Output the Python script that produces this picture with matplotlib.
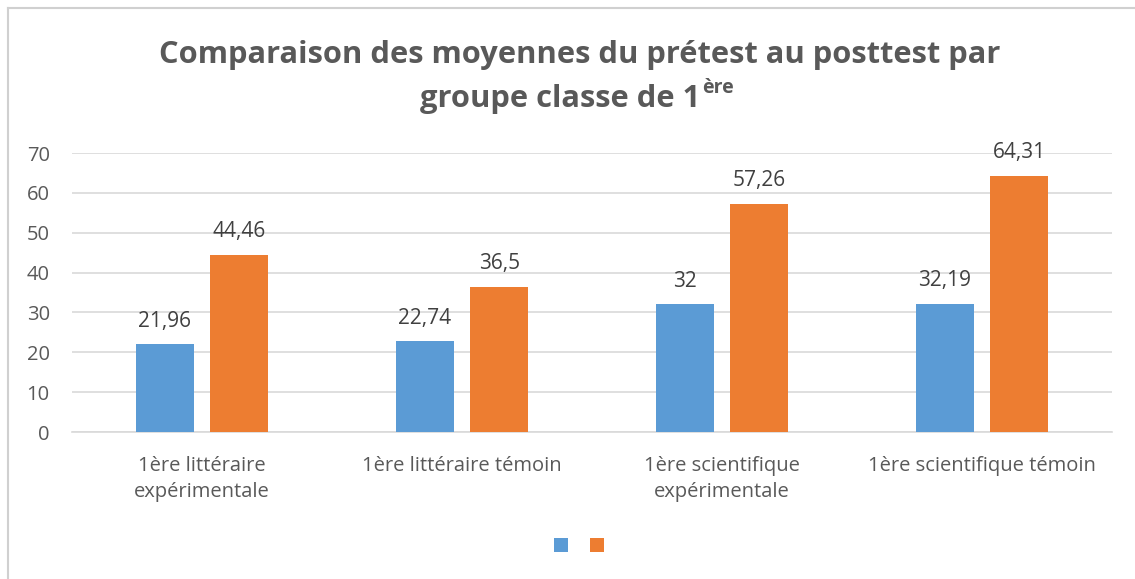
import matplotlib
matplotlib.use("Agg")
import matplotlib.pyplot as plt
from matplotlib.patches import Patch
from matplotlib.lines import Line2D
import numpy as np

categories = ["1ère littéraire\nexpérimentale", "1ère littéraire témoin",
              "1ère scientifique\nexpérimentale", "1ère scientifique témoin"]
pretest = [21.96, 22.74, 32.0, 32.19]
posttest = [44.46, 36.5, 57.26, 64.31]
pretest_labels = ["21,96", "22,74", "32", "32,19"]
posttest_labels = ["44,46", "36,5", "57,26", "64,31"]
y_ticks = [0, 10, 20, 30, 40, 50, 60, 70]

BLUE = "#5B9BD5"
ORANGE = "#ED7D31"
TEXT = "#595959"
GRID = "#D9D9D9"
FONT = "Open Sans"

W, H = 1135, 579
fig = plt.figure(figsize=(W / 100, H / 100), dpi=100)
fig.patch.set_facecolor("white")

# outer frame (left and top edges only are visible)
fig.add_artist(Line2D([7.5 / W, 7.5 / W], [0, 1 - 7.5 / H], transform=fig.transFigure,
                      color="#D0D0D0", lw=1.5))
fig.add_artist(Line2D([7.5 / W, 1], [1 - 7.5 / H, 1 - 7.5 / H], transform=fig.transFigure,
                      color="#D0D0D0", lw=1.5))

ax = fig.add_axes([72 / W, 1 - 432 / H, (1112 - 72) / W, (432 - 153) / H])
x = np.arange(len(categories))
bw = 0.223
off = 0.144
b1 = ax.bar(x - off, pretest, bw, color=BLUE, zorder=3)
b2 = ax.bar(x + off, posttest, bw, color=ORANGE, zorder=3)

for bars, labs in ((b1, pretest_labels), (b2, posttest_labels)):
    for r, lab in zip(bars, labs):
        ax.annotate(lab, (r.get_x() + r.get_width() / 2, r.get_height()),
                    xytext=(0, 9), textcoords="offset points", ha="center", va="bottom",
                    fontsize=15, color="#404040", family=FONT)

ax.set_xlim(-0.5, 3.5)
ax.set_ylim(0, 70)
ax.set_yticks(y_ticks)
ax.yaxis.grid(True, color=GRID, lw=1.2, zorder=0)
ax.set_axisbelow(True)
for s in ("left", "right", "top"):
    ax.spines[s].set_visible(False)
ax.spines["bottom"].set_color(GRID)
ax.spines["bottom"].set_linewidth(1.2)
ax.tick_params(axis="both", length=0, colors=TEXT, labelsize=14.5)
ax.tick_params(axis="y", pad=16)
ax.tick_params(axis="x", pad=17.5)
ax.set_xticks(x)
ax.set_xticklabels(categories, va="top", linespacing=1.35)
for t in ax.get_xticklabels() + ax.get_yticklabels():
    t.set_family(FONT)

# title: two lines, the second with a superscript
fig.text(580 / W, 1 - 55 / H, "Comparaison des moyennes du prétest au posttest par",
         ha="center", va="center", fontsize=22.2, fontweight="bold", color=TEXT, family=FONT)
fig.canvas.draw()
r = fig.canvas.get_renderer()
main = fig.text(0, 1 - 99 / H, "groupe classe de 1", ha="left", va="center",
                fontsize=22.2, fontweight="bold", color=TEXT, family=FONT)
sup = fig.text(0, 0, "ère", ha="left", va="center", fontsize=14, fontweight="bold",
               color=TEXT, family=FONT)
wm = main.get_window_extent(r).width
ws = sup.get_window_extent(r).width
total = wm + 2 + ws
x0 = 577 - total / 2
main.set_x(x0 / W)
sup.set_position(((x0 + wm + 2) / W, 1 - 88 / H))

handles = [Patch(facecolor=BLUE), Patch(facecolor=ORANGE)]
fig.legend(handles, ["", ""], loc="center", bbox_to_anchor=(579 / W, 1 - 546 / H), ncol=2,
           frameon=False, handlelength=0.8, handleheight=0.8, handletextpad=0.0,
           columnspacing=1.2, fontsize=13)

fig.savefig("out.png", dpi=100, facecolor="white")
